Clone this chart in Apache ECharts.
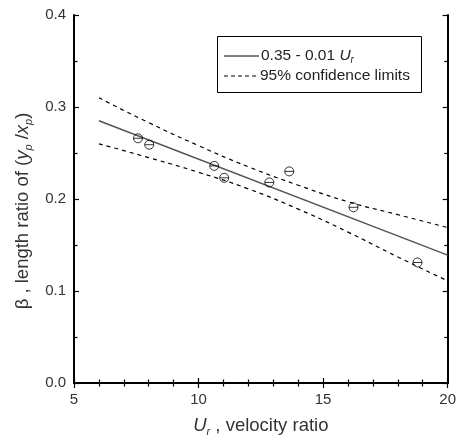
<!DOCTYPE html>
<html><head><meta charset="utf-8">
<script src="https://cdn.jsdelivr.net/npm/echarts@6/dist/echarts.min.js"></script>
<style>html,body{margin:0;padding:0;background:#fff}#c{width:459px;height:443px}</style>
</head><body><div id="c"></div>
<script>
// Measured data (velocity ratio Ur, length ratio beta)
const pointsX = [7.57, 8.02, 10.63, 11.03, 12.84, 13.64, 16.22, 18.79];
const pointsY = [0.266, 0.259, 0.236, 0.223, 0.218, 0.230, 0.191, 0.131];
// Fitted line endpoints
const fitX = [6, 20];
const fitY = [0.285, 0.139];
// 95% confidence limits
const confX = [6, 8, 10, 12, 14, 16, 18, 20];
const confUpper = [0.310, 0.283, 0.258, 0.235, 0.215, 0.197, 0.183, 0.169];
const confLower = [0.260, 0.245, 0.229, 0.211, 0.189, 0.164, 0.137, 0.111];
const xTicks = [5, 10, 15, 20];
const yTicks = [0.0, 0.1, 0.2, 0.3, 0.4];
const legendLabels = ['0.35 - 0.01 {i|U}{s|r}', '95% confidence limits'];

const zip = (a, b) => a.map((v, i) => [v, b[i]]);
const font = 'Liberation Sans, Arial, sans-serif';
const txt = '#333';
const chart = echarts.init(document.getElementById('c'));
const axisLine = {show: true, lineStyle: {color: '#000', width: 2}};
const axisTick = {show: true, inside: true, length: 5, lineStyle: {color: '#000', width: 1.2}};
const minorX = {show: true, splitNumber: 5, length: 3.5, lineStyle: {color: '#000', width: 1.2}};
const minorY = {show: true, splitNumber: 2, length: 3.5, lineStyle: {color: '#000', width: 1.2}};
const richSub = (fs) => ({
  i: {fontStyle: 'italic', fontSize: fs, color: txt, fontFamily: font},
  s: {fontStyle: 'italic', fontSize: Math.round(fs * 0.62), color: txt, fontFamily: font, verticalAlign: 'bottom', padding: [Math.round(fs*0.6), 0, 0, 0]}
});
chart.setOption({
  animation: false,
  grid: {left: 74, right: 11, top: 15, bottom: 60},
  xAxis: [
    {type: 'value', min: xTicks[0], max: xTicks[xTicks.length-1], interval: 5,
      axisLine, axisTick, minorTick: minorX, splitLine: {show: false},
      axisLabel: {color: txt, fontFamily: font, fontSize: 15, margin: 9},
      name: '{i|U}{s|r} , velocity ratio', nameLocation: 'middle', nameGap: 32,
      nameTextStyle: {color: txt, fontFamily: font, fontSize: 18.5, rich: richSub(18.5)}},
    {type: 'value', position: 'top', min: 5, max: 20, interval: 5,
      axisLine, axisTick, minorTick: minorX, splitLine: {show: false}, axisLabel: {show: false}}
  ],
  yAxis: [
    {type: 'value', min: yTicks[0], max: yTicks[yTicks.length-1], interval: 0.1,
      axisLine, axisTick, minorTick: minorY, splitLine: {show: false},
      axisLabel: {color: txt, fontFamily: font, fontSize: 15, margin: 8, formatter: v => v.toFixed(1)},
      name: 'β , length ratio of ({i|y}{s|p} /{i|x}{s|p})', nameLocation: 'middle', nameGap: 37, nameRotate: 90,
      nameTextStyle: {color: txt, fontFamily: font, fontSize: 18.5, rich: richSub(18.5), padding: [0, 24, 0, 0]}},
    {type: 'value', position: 'right', min: 0, max: 0.4, interval: 0.1,
      axisLine, axisTick, minorTick: minorY, splitLine: {show: false}, axisLabel: {show: false}}
  ],
  graphic: [
    {type: 'rect', left: 217, top: 36, shape: {width: 204, height: 56},
      style: {fill: '#fff', stroke: '#000', lineWidth: 1}, z: 10},
    {type: 'line', shape: {x1: 224, y1: 56, x2: 259, y2: 56}, style: {stroke: '#000', lineWidth: 1}, z: 11},
    {type: 'line', shape: {x1: 224, y1: 76, x2: 259, y2: 76}, style: {stroke: '#000', lineWidth: 1, lineDash: [4, 3]}, z: 11},
    {type: 'text', x: 261, y: 56, z: 11,
      style: {text: legendLabels[0], fill: '#222', font: '15.5px ' + font, verticalAlign: 'middle',
        rich: {i: {fontStyle: 'italic', fontSize: 15.5, fill: '#222', fontFamily: font},
               s: {fontStyle: 'italic', fontSize: 10, fill: '#222', fontFamily: font, verticalAlign: 'bottom', padding: [8, 0, 0, 0]}}}},
    {type: 'text', x: 260, y: 76, z: 11,
      style: {text: legendLabels[1], fill: '#222', font: '15.5px ' + font, verticalAlign: 'middle'}}
  ],
  series: [
    {name: 'fit', type: 'line', data: zip(fitX, fitY), showSymbol: false, symbol: 'none',
      lineStyle: {color: '#555', width: 1.5}},
    {name: 'conf', type: 'line', data: zip(confX, confUpper), smooth: true, showSymbol: false, symbol: 'none',
      lineStyle: {color: '#000', width: 1.2, type: [4, 4]}},
    {name: 'conf', type: 'line', data: zip(confX, confLower), smooth: true, showSymbol: false, symbol: 'none',
      lineStyle: {color: '#000', width: 1.2, type: [4, 4]}},
    {name: 'pts', type: 'scatter', data: zip(pointsX, pointsY), symbol: 'circle', symbolSize: 9,
      itemStyle: {color: 'rgba(255,255,255,0)', borderColor: '#000', borderWidth: 1}, z: 5},
    {name: 'ptsBar', type: 'scatter', data: zip(pointsX, pointsY), symbol: 'rect', symbolSize: [9, 1],
      symbolKeepAspect: false, itemStyle: {color: '#000'}, z: 6}
  ]
});
</script></body></html>
